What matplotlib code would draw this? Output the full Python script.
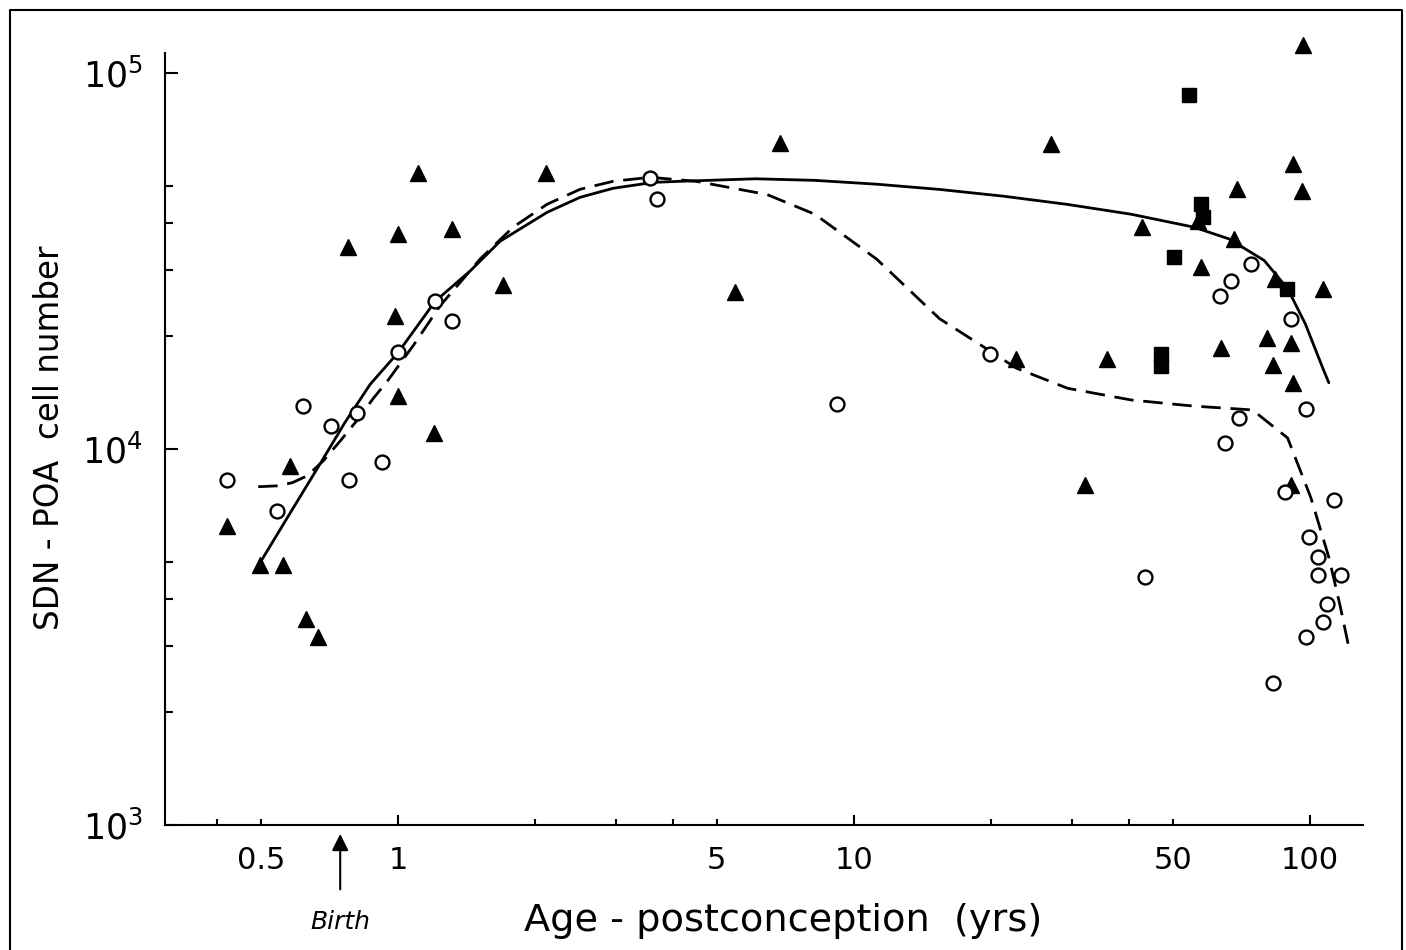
import numpy as np
import matplotlib
matplotlib.use("Agg")
import matplotlib.pyplot as plt
from matplotlib.lines import Line2D

# males, filled triangles (age postconception in yrs, SDN-POA cell number)
tri_age = [1.106, 2.11, 1.0, 1.313, 0.777, 1.70, 0.985, 1.0, 1.199, 0.579, 0.422,
           0.498, 0.560, 0.628, 0.667,
           96.5, 6.88, 27.0, 91.8, 69.2, 96, 56.7, 42.8, 68.3, 57.7, 84, 107, 5.48,
           80.5, 91, 22.7, 35.9, 63.8, 83, 91.8, 90.8, 32.1]
tri_cells = [54300, 54300, 37300, 38500, 34400, 27300, 22600, 13800, 11000, 9020, 6250,
             4900, 4900, 3530, 3160,
             118600, 65300, 64600, 57100, 49000, 48400, 40400, 38900, 36200, 30500, 28300,
             26700, 26200, 19700, 19100, 17400, 17400, 18500, 16700, 15000, 8000, 8000]

# males, filled squares
sq_age = [54.3, 57.7, 58.4, 50.2, 89, 47.1, 47.1]
sq_cells = [87400, 44700, 41300, 32400, 26700, 17900, 16600]

# females, open circles
circ_age = [3.57, 3.70, 1.205, 1.313, 1.0, 0.619, 0.813, 0.713, 0.922, 0.422, 0.781, 0.543,
            19.9, 9.18, 74.4, 67.1, 63.5, 90.8, 70, 98, 65, 88, 113, 99.4, 104, 104, 117,
            109, 107, 98, 43.5, 83]
circ_cells = [52400, 46100, 24700, 21900, 18100, 13000, 12500, 11500, 9250, 8280, 8280, 6850,
              17900, 13200, 31100, 28000, 25500, 22200, 12100, 12800, 10400, 7660, 7330, 5820,
              5150, 4620, 4620, 3870, 3470, 3160, 4560, 2390]

# fitted curves
male_curve_age = [0.498, 0.580, 0.674, 0.765, 0.868, 1.0, 1.205, 1.439, 1.674, 2.122, 2.507,
                  2.96, 3.624, 4.15, 6.07, 8.2, 11.2, 15.4, 21.3, 29.4, 40.5, 55.6, 66.4, 79.4,
                  89.3, 97.7, 106.7, 110]
male_curve_cells = [4990, 6770, 9130, 11790, 14860, 18060, 24700, 29760, 35700, 42600, 46700,
                    49340, 51160, 51500, 52300, 51800, 50600, 49000, 47000, 44700, 42100,
                    38900, 36200, 31700, 26700, 21500, 16400, 15000]

female_curve_age = [0.493, 0.543, 0.585, 0.631, 0.685, 0.746, 0.813, 0.882, 0.946, 1.079,
                    1.236, 1.513, 1.787, 2.122, 2.507, 2.96, 3.57, 4.5, 6.44, 8.2, 11.2, 15.4,
                    18.7, 22.7, 29.4, 40.5, 55.6, 74.8, 89.3, 100.5, 110, 116.6, 121.6]
female_curve_cells = [7935, 7980, 8130, 8480, 9300, 10500, 11930, 13640, 15130, 18840, 24040,
                      32010, 38900, 44760, 49050, 51500, 52780, 51500, 47500, 42100, 32000,
                      22200, 19100, 16400, 14500, 13500, 13000, 12700, 10700, 7410, 5150, 3800,
                      2980]

x_ticks_major = [1, 10, 100]
x_ticks_minor = [0.4, 0.5, 2, 3, 4, 5, 20, 30, 40, 50]
x_minor_labels = ['', '0.5', '', '', '', '5', '', '', '', '50']
y_ticks_major = [1e3, 1e4, 1e5]
y_ticks_minor = [2e3, 3e3, 4e3, 5e3, 2e4, 3e4, 4e4, 5e4]

fig = plt.figure(figsize=(14.06, 9.5), dpi=100)
ax = fig.add_axes([0.1174, 0.1316, 0.852, 0.8126])

ax.plot(male_curve_age, male_curve_cells, color='black', lw=2.0, solid_capstyle='round',
        solid_joinstyle='round')
ax.plot(female_curve_age, female_curve_cells, color='black', lw=2.0, dashes=(7, 3.5),
        dash_joinstyle='round')

ax.plot(tri_age, tri_cells, '^', color='black', ms=12, clip_on=False)
ax.plot(sq_age, sq_cells, 's', color='black', ms=9.5, clip_on=False)
ax.plot(circ_age, circ_cells, 'o', mfc='white', mec='black', mew=1.7, ms=10, clip_on=False)

ax.set_xscale('log')
ax.set_yscale('log')
ax.set_xlim(0.308, 130.7)
ax.set_ylim(1000, 10 ** 5.053)

ax.set_xticks(x_ticks_major)
ax.set_xticklabels([str(t) for t in x_ticks_major])
ax.set_xticks(x_ticks_minor, minor=True)
ax.set_xticklabels(x_minor_labels, minor=True)
ax.set_yticks(y_ticks_major)
ax.set_yticklabels([r'$\mathregular{10^%d}$' % int(np.log10(t)) for t in y_ticks_major])
ax.set_yticks(y_ticks_minor, minor=True)
ax.set_yticklabels([], minor=True)

ax.tick_params(axis='x', which='both', direction='in', width=1.5, labelsize=22, pad=15)
ax.tick_params(axis='x', which='major', length=7.5)
ax.tick_params(axis='x', which='minor', length=4.5)
ax.tick_params(axis='y', which='both', direction='in', width=1.5, labelsize=25, pad=16)
ax.tick_params(axis='y', which='major', length=9)
ax.tick_params(axis='y', which='minor', length=5.5)

for side in ['top', 'right']:
    ax.spines[side].set_visible(False)
for side in ['left', 'bottom']:
    ax.spines[side].set_linewidth(1.5)

# birth marker below the axis
ax.annotate('', xy=(0.746, -0.008), xycoords=('data', 'axes fraction'),
            xytext=(0.746, -0.087), textcoords=('data', 'axes fraction'),
            arrowprops=dict(arrowstyle='-|>', color='black', lw=1.5, mutation_scale=25))
ax.text(0.746, -0.126, 'Birth', transform=ax.get_xaxis_transform(), ha='center', va='center',
        fontsize=18, style='italic')

fig.text(783 / 1406, 1 - 921 / 950, 'Age - postconception  (yrs)', ha='center', va='center',
         fontsize=27.5)
fig.text(50 / 1406, 1 - 438 / 950, 'SDN - POA  cell number', ha='center', va='center',
         rotation=90, fontsize=23.5)

# page frame of the scanned figure
frame_x = [10 / 1406, 10 / 1406, 1402 / 1406, 1402 / 1406]
frame_y = [0, 1 - 10 / 950, 1 - 10 / 950, 0]
fig.add_artist(Line2D(frame_x, frame_y, transform=fig.transFigure, color='black', lw=1.5))

fig.savefig('out.png', dpi=100)
